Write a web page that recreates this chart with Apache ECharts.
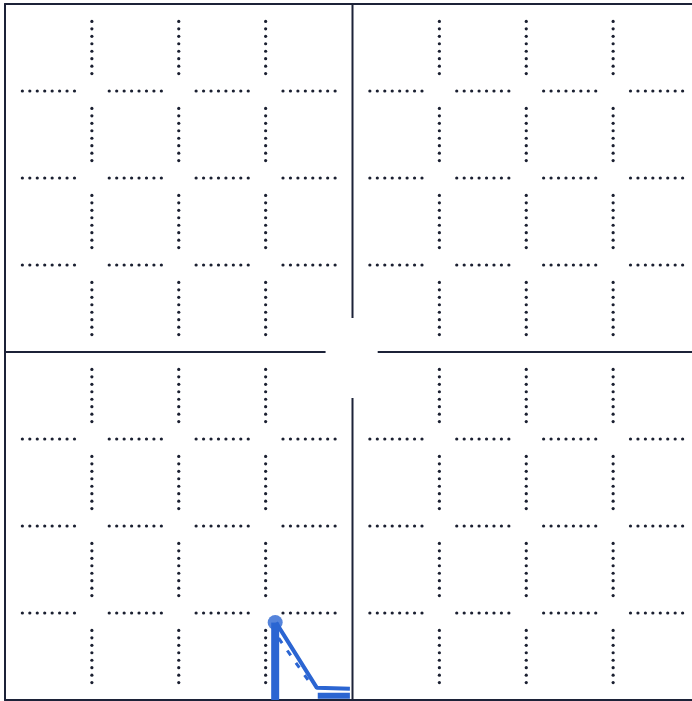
<!DOCTYPE html>
<html><head><meta charset="utf-8">
<script src="https://cdn.jsdelivr.net/npm/echarts@6/dist/echarts.min.js"></script>
<style>html,body{margin:0;padding:0;background:#fff}#c{width:692px;height:701px}</style>
</head><body><div id="c"></div>
<script>
// grid structure
const dottedLines = [1, 2, 3, 5, 6, 7];
const cells = [0, 1, 2, 3, 4, 5, 6, 7];
// hand-drawn blue trace (data coordinates)
const stemLine = [[3.11, 0], [3.11, 0.89]];
const traceLine = [[3.12, 0.89], [3.59, 0.14], [3.97, 0.13]];
const dashTrace = [[3.15, 0.71], [3.53, 0.17]];
const baseScribble = [[3.60, 0.05], [3.97, 0.05]];
const peakPoint = [[3.11, 0.89]];
// solid centre cross (with gap)
const centerV1 = [[4, 8], [4, 4.39]];
const centerV2 = [[4, 3.47], [4, 0]];
const centerH1 = [[0, 4], [3.69, 4]];
const centerH2 = [[4.29, 4], [8, 4]];

const segs = [];
dottedLines.forEach(v => cells.forEach(c => { segs.push([0, v, c]); segs.push([1, v, c]); }));

const ink = '#1c2238';
const blue = '#2b65d2';
const axisCommon = {
  type: 'value', min: 0, max: 8, interval: 1,
  axisLine: { show: true, onZero: false, lineStyle: { color: ink, width: 2 } },
  axisTick: { show: false }, axisLabel: { show: false }, splitLine: { show: false }
};
const solid = (d) => ({
  type: 'line', data: d, symbol: 'none', silent: true,
  lineStyle: { color: ink, width: 2 }, z: 3
});

const chart = echarts.init(document.getElementById('c'));
chart.setOption({
  animation: false,
  backgroundColor: '#ffffff',
  grid: { left: 5, top: 4, width: 695, height: 696, outerBoundsMode: 'none', containLabel: false },
  xAxis: [Object.assign({ position: 'bottom' }, axisCommon), Object.assign({ position: 'top' }, axisCommon)],
  yAxis: [Object.assign({ position: 'left' }, axisCommon)],
  series: [
    {
      type: 'custom', data: segs, silent: true, z: 2,
      renderItem: function (params, api) {
        const o = api.value(0), v = api.value(1), c = api.value(2);
        let a, b;
        if (o === 0) { a = api.coord([v, c + 0.2]); b = api.coord([v, c + 0.8]); }
        else { a = api.coord([c + 0.2, v]); b = api.coord([c + 0.8, v]); }
        const len = Math.hypot(b[0] - a[0], b[1] - a[1]);
        const n = Math.max(1, Math.round(len / 7));
        const children = [];
        for (let k = 0; k <= n; k++) {
          children.push({
            type: 'circle',
            shape: { cx: a[0] + (b[0] - a[0]) * k / n, cy: a[1] + (b[1] - a[1]) * k / n, r: 1.6 },
            style: { fill: '#1a1f30' }
          });
        }
        return { type: 'group', children: children };
      }
    },
    solid(centerV1), solid(centerV2), solid(centerH1), solid(centerH2),
    { type: 'line', data: stemLine, symbol: 'none', lineStyle: { color: blue, width: 8 }, z: 5 },
    { type: 'line', data: traceLine, symbol: 'none', lineStyle: { color: blue, width: 4 }, z: 5 },
    { type: 'line', data: dashTrace, symbol: 'none', lineStyle: { color: blue, width: 3, type: [6, 9] }, z: 5 },
    { type: 'line', data: baseScribble, symbol: 'none', lineStyle: { color: blue, width: 6 }, z: 5 },
    { type: 'scatter', data: peakPoint, symbolSize: 15, itemStyle: { color: blue }, z: 6 }
  ]
});
</script>
</body></html>
